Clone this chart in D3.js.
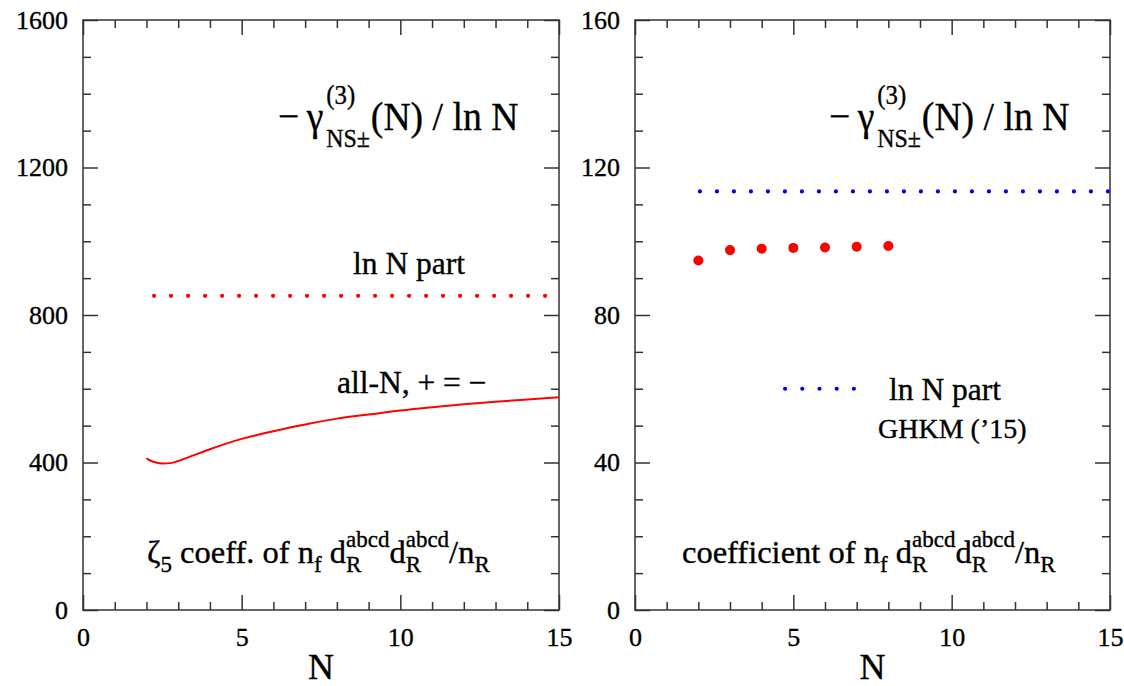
<!DOCTYPE html>
<html>
<head>
<meta charset="utf-8">
<script src="https://cdn.jsdelivr.net/npm/d3@7"></script>
<style>
  body { margin: 0; background: #fff; }
  svg text { font-family: "Liberation Serif", "Times New Roman", serif; fill: #000; white-space: pre;
             stroke: #000; stroke-width: 0.35px; }
</style>
</head>
<body>
<svg id="chart" width="1124" height="686"></svg>
<script>
// x axis (shared by both panels)
const xDomain = [0, 15];
const xMajor = [0, 5, 10, 15];
const xMinor = [1, 2, 3, 4, 6, 7, 8, 9, 11, 12, 13, 14];

// left panel: zeta5 coefficient
const leftYDomain = [0, 1600];
const leftYMajor = [0, 400, 800, 1200, 1600];
const leftYMinor = [100, 200, 300, 500, 600, 700, 900, 1000, 1100, 1300, 1400, 1500];
const allN_N   = [2.0, 2.15, 2.3, 2.5, 2.8, 3, 3.5, 4, 5, 6, 7, 8, 9, 10, 11, 12, 13, 14, 15];
const allN_val = [411, 404, 400, 397.5, 399, 404, 420, 436, 464, 485, 503, 519, 530, 541, 550, 558, 565, 571, 577];
const leftLnN_N = [2.24, 15];
const leftLnN_val = [852, 852];

// right panel: full coefficient
const rightYDomain = [0, 160];
const rightYMajor = [0, 40, 80, 120, 160];
const rightYMinor = [10, 20, 30, 50, 60, 70, 90, 100, 110, 130, 140, 150];
const pointsN   = [2, 3, 4, 5, 6, 7, 8];
const pointsVal = [94.8, 97.6, 98.0, 98.2, 98.3, 98.5, 98.7];
const ghkmN = [2.05, 15];
const ghkmVal = [113.5, 113.5];
const legendN = [4.74, 6.95];
const legendVal = [60, 60];

const svg = d3.select("#chart");
const plotTop = 20, plotBottom = 610;
const stroke = "#333";

function makePanel(left, right, yDomain, yMajor, yMinor) {
    const x = d3.scaleLinear().domain(xDomain).range([left, right]);
    const y = d3.scaleLinear().domain(yDomain).range([plotBottom, plotTop]);
    const g = svg.append("g");

    // ticks on all four sides, pointing inward
    const axes = [
        [d3.axisBottom(x), `translate(0,${plotBottom})`, xMajor, xMinor, 18],
        [d3.axisTop(x), `translate(0,${plotTop})`, xMajor, xMinor, 0],
        [d3.axisLeft(y), `translate(${left},0)`, yMajor, yMinor, 15],
        [d3.axisRight(y), `translate(${right},0)`, yMajor, yMinor, 0]
    ];
    axes.forEach(([ax, tr, major, minor, pad]) => {
        g.append("g").attr("transform", tr)
            .call(ax.tickValues(major).tickSize(-15).tickPadding(pad)
                .tickFormat(pad ? d3.format("d") : ""))
            .call(s => s.select(".domain").remove());
        g.append("g").attr("transform", tr)
            .call(ax.tickValues(minor).tickSize(-8).tickFormat(""))
            .call(s => s.select(".domain").remove());
    });
    g.selectAll(".tick line").attr("stroke", stroke).attr("stroke-width", 1.5);
    g.selectAll(".tick text").style("font-size", "26px").attr("fill", "#000");

    // frame
    g.append("rect")
        .attr("x", left).attr("y", plotTop)
        .attr("width", right - left).attr("height", plotBottom - plotTop)
        .attr("fill", "none").attr("stroke", stroke).attr("stroke-width", 1.5);

    // axis title
    g.append("text")
        .attr("x", (left + right) / 2).attr("y", 679)
        .attr("text-anchor", "middle")
        .style("font-size", "36px")
        .text("N");

    return { x, y, g };
}

// text with sub/superscripts, laid out piece by piece
function rich(g, x, y, parts, base) {
    let cx = x;
    parts.forEach(p => {
        const items = p.stack ? p.stack : [p];
        let w = 0;
        items.forEach(s => {
            const t = g.append("text")
                .attr("x", cx + (s.dx || 0)).attr("y", y + (s.dy || 0))
                .style("font-size", (s.size || base) + "px")
                .text(s.t);
            w = Math.max(w, t.node().getComputedTextLength() + (s.dx || 0));
        });
        cx += w + (p.gap || 0);
    });
}

// the title glyphs are taller than they are wide, so squeeze it a little
function title(g, x) {
    const tg = g.append("g").attr("transform", `translate(${x},130) scale(0.92,1)`);
    rich(tg, 0, 0, [
        { t: "\u2212\u2009\u03b3", gap: 3 },
        { stack: [{ t: "(3)", size: 27, dy: -26, dx: 0 }, { t: "NS\u00b1", size: 26, dy: 17 }], gap: 1 },
        { t: "(N) / ln N" }
    ], 41);
}

function coeffLabel(g, x, lead) {
    const sup = { size: 23, dy: -16 }, sub = { size: 23, dy: 9 };
    rich(g, x, 563, lead.concat([
        { t: " of n" },
        { t: "f", size: 23, dy: 9 },
        { t: " d" },
        { stack: [Object.assign({ t: "abcd" }, sup), Object.assign({ t: "R" }, sub)] },
        { t: "d" },
        { stack: [Object.assign({ t: "abcd" }, sup), Object.assign({ t: "R" }, sub)] },
        { t: "/n" },
        { t: "R", size: 23, dy: 9 }
    ]), 32.5);
}

const line = (x, y) => d3.line().x(d => x(d[0])).y(d => y(d[1]));

// ---- left panel
const L = makePanel(83, 559, leftYDomain, leftYMajor, leftYMinor);
L.g.append("path")
    .datum(allN_N.map((n, i) => [n, allN_val[i]]))
    .attr("d", line(L.x, L.y).curve(d3.curveMonotoneX))
    .attr("fill", "none").attr("stroke", "#ff0000").attr("stroke-width", 2);
L.g.append("path")
    .datum(leftLnN_N.map((n, i) => [n, leftLnN_val[i]]))
    .attr("d", line(L.x, L.y))
    .attr("fill", "none").attr("stroke", "#ff0000").attr("stroke-width", 4.2)
    .attr("stroke-linecap", "round").attr("stroke-dasharray", "0 17");
title(L.g, 278);
L.g.append("text").attr("x", 353).attr("y", 274).style("font-size", "31.5px").text("ln N part");
L.g.append("text").attr("x", 337).attr("y", 393).style("font-size", "31.5px").text("all-N, + = \u2212");
coeffLabel(L.g, 147, [{ t: "\u03b6" }, { t: "5", size: 23, dy: 9 }, { t: " coeff." }]);

// ---- right panel
const R = makePanel(635, 1110, rightYDomain, rightYMajor, rightYMinor);
R.g.append("path")
    .datum(ghkmN.map((n, i) => [n, ghkmVal[i]]))
    .attr("d", line(R.x, R.y))
    .attr("fill", "none").attr("stroke", "#0000ff").attr("stroke-width", 4.2)
    .attr("stroke-linecap", "round").attr("stroke-dasharray", "0 17");
R.g.selectAll(".pt")
    .data(pointsN.map((n, i) => [n, pointsVal[i]]))
    .enter().append("circle")
    .attr("class", "pt")
    .attr("cx", d => R.x(d[0])).attr("cy", d => R.y(d[1]))
    .attr("r", 5).attr("fill", "#ff0000");
R.g.append("path")
    .datum(legendN.map((n, i) => [n, legendVal[i]]))
    .attr("d", line(R.x, R.y))
    .attr("fill", "none").attr("stroke", "#0000ff").attr("stroke-width", 4.2)
    .attr("stroke-linecap", "round").attr("stroke-dasharray", "0 17.2");
title(R.g, 829);
R.g.append("text").attr("x", 889).attr("y", 400).style("font-size", "31.5px").text("ln N part");
R.g.append("text").attr("x", 878).attr("y", 438).style("font-size", "28px").text("GHKM (\u201915)");
coeffLabel(R.g, 682, [{ t: "coefficient" }]);
</script>
</body>
</html>
